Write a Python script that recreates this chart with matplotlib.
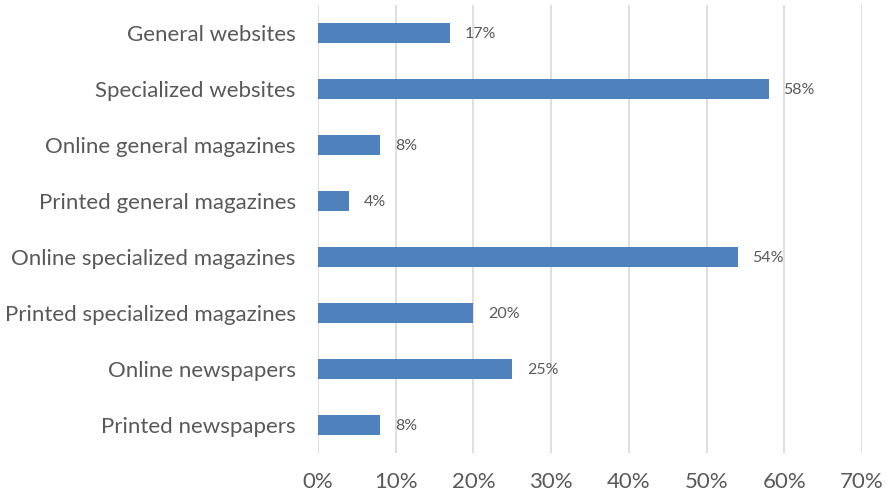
import matplotlib.pyplot as plt
import numpy as np

categories = [
    'General websites',
    'Specialized websites',
    'Online general magazines',
    'Printed general magazines',
    'Online specialized magazines',
    'Printed specialized magazines',
    'Online newspapers',
    'Printed newspapers',
]
shares = [17, 58, 8, 4, 54, 20, 25, 8]
x_ticks = [0, 10, 20, 30, 40, 50, 60, 70]

bar_color = '#4F81BD'
text_color = '#595959'
plt.rcParams['font.family'] = ['Lato', 'DejaVu Sans']

fig = plt.figure(figsize=(8.86, 4.95), dpi=100)
ax = fig.add_axes([318 / 886, 1 - 453 / 495, 544 / 886, 448 / 495])

y = np.arange(len(categories))
ax.barh(y, shares, height=0.36, color=bar_color, zorder=3)
# value labels just right of each bar end
for yi, v in zip(y, shares):
    ax.text(v + 1.9, yi, f'{v}%', va='center_baseline', ha='left',
            fontsize=11.5, color=text_color)

ax.set_xlim(0, 70)
ax.set_ylim(len(categories) - 0.5, -0.5)
ax.set_xticks(x_ticks)
ax.set_xticklabels([f'{t}%' for t in x_ticks])
ax.set_yticks(y)
ax.set_yticklabels(categories)
ax.tick_params(axis='both', length=0, labelsize=16, labelcolor=text_color)
ax.tick_params(axis='y', pad=16)
ax.tick_params(axis='x', pad=14)
ax.grid(axis='x', color='#D9D9D9', linewidth=1.2, zorder=0)
for s in ax.spines.values():
    s.set_visible(False)

fig.savefig('out.png', dpi=100)
